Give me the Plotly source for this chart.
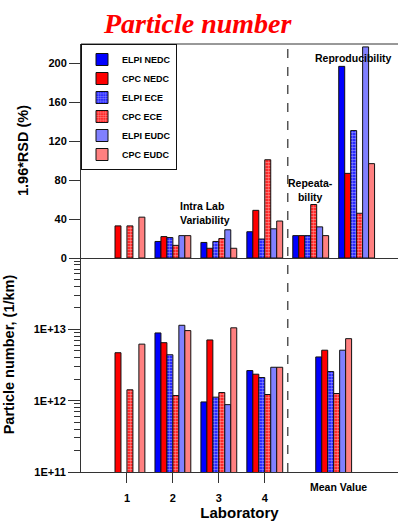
import plotly.graph_objects as go

# ---------------- data ----------------
series_names = ["ELPI NEDC", "CPC NEDC", "ELPI ECE", "CPC ECE", "ELPI EUDC", "CPC EUDC"]

# top panel: 1.96*RSD (%) ; positions: labs 1-4, repeatability, reproducibility
top_x = [1, 2, 3, 4, 5, 6]
rsd_elpi_nedc = [None, 17, 16, 27, 23, 197]
rsd_cpc_nedc = [33, 22, 10, 49, 23, 87]
rsd_elpi_ece = [None, 21, 17, 19.5, 23, 131]
rsd_cpc_ece = [33, 13, 20, 101, 55, 46]
rsd_elpi_eudc = [None, 23, 29, 30, 32, 217]
rsd_cpc_eudc = [42, 23, 10, 38, 23, 97]

# bottom panel: particle number (1/km) ; positions: labs 1-4, mean value
bot_x = [1, 2, 3, 4, 5.5]
pn_elpi_nedc = [None, 8.9e12, 9.6e11, 2.64e12, 4.1e12]
pn_cpc_nedc = [4.7e12, 6.5e12, 7.1e12, 2.35e12, 5.1e12]
pn_elpi_ece = [None, 4.4e12, 1.12e12, 2.11e12, 2.56e12]
pn_cpc_ece = [1.42e12, 1.18e12, 1.3e12, 1.22e12, 1.26e12]
pn_elpi_eudc = [None, 1.14e13, 8.8e11, 2.94e12, 5.1e12]
pn_cpc_eudc = [6.2e12, 9.6e12, 1.05e13, 2.94e12, 7.4e12]

lab_ticks = [1, 2, 3, 4]
lab_labels = ["1", "2", "3", "4"]
log_ticks = [1e11, 1e12, 1e13]
log_labels = ["1E+11", "1E+12", "1E+13"]
rsd_ticks = [0, 40, 80, 120, 160, 200]

top_values = [rsd_elpi_nedc, rsd_cpc_nedc, rsd_elpi_ece, rsd_cpc_ece, rsd_elpi_eudc, rsd_cpc_eudc]
bot_values = [pn_elpi_nedc, pn_cpc_nedc, pn_elpi_ece, pn_cpc_ece, pn_elpi_eudc, pn_cpc_eudc]

# ---------------- styles ----------------
FONT = "Liberation Sans, Arial, sans-serif"
AX = "#333333"
styles = [
    dict(color="#0000FF"),
    dict(color="#FF0000"),
    dict(color="#0000FF", pattern=dict(shape=".", fgcolor="white", bgcolor="#0000FF", size=3, solidity=0.65)),
    dict(color="#FF0000", pattern=dict(shape=".", fgcolor="white", bgcolor="#FF0000", size=3, solidity=0.65)),
    dict(color="#8080FF"),
    dict(color="#FF8080"),
]
BW = 0.13

fig = go.Figure()
for i, name in enumerate(series_names):
    st = dict(styles[i])
    st["line"] = dict(color="#111111", width=1)
    fig.add_trace(go.Bar(
        x=top_x, y=top_values[i], name=name, width=BW, offset=-0.39 + i * BW,
        marker=st, xaxis="x", yaxis="y", legendgroup=name, showlegend=True,
    ))
for i, name in enumerate(series_names):
    st = dict(styles[i])
    st["line"] = dict(color="#111111", width=1)
    fig.add_trace(go.Bar(
        x=bot_x, y=bot_values[i], name=name, width=BW, offset=-0.39 + i * BW,
        marker=st, xaxis="x2", yaxis="y2", legendgroup=name, showlegend=False,
    ))

tickfont = dict(family=FONT, size=11, color="black", weight="bold")

fig.update_layout(
    width=398, height=522,
    margin=dict(l=81, r=0, t=44, b=50),
    paper_bgcolor="white", plot_bgcolor="white",
    barmode="overlay",
    showlegend=True,
    legend=dict(
        x=0, y=1, xanchor="left", yanchor="top",
        bordercolor="#111111", borderwidth=1, bgcolor="white",
        font=dict(family=FONT, size=9, color="black", weight="bold"),
        traceorder="grouped", tracegroupgap=0,
    ),
    xaxis=dict(domain=[0, 1], range=[0, 6.9], anchor="y", showticklabels=False,
               ticks="", showgrid=False, zeroline=False, showline=True,
               linecolor=AX, linewidth=1),
    yaxis=dict(domain=[0.5, 1], range=[0, 220], anchor="x", tickvals=rsd_ticks,
               ticks="outside", ticklen=11, tickcolor=AX, showgrid=False,
               zeroline=False, showline=True, linecolor=AX, linewidth=1,
               tickfont=tickfont),
    xaxis2=dict(domain=[0, 1], range=[0, 6.9], anchor="y2", tickvals=lab_ticks,
                ticktext=lab_labels, ticks="outside", ticklen=10, tickcolor=AX,
                ticklabelstandoff=6,
                showgrid=False, zeroline=False, showline=True, linecolor=AX,
                linewidth=1, tickfont=tickfont,
                title=dict(text="Laboratory", font=dict(family=FONT, size=15, color="black", weight="bold"),
                           standoff=2)),
    yaxis2=dict(domain=[0, 0.5], type="log", range=[11, 14], anchor="x2",
                tickvals=log_ticks, ticktext=log_labels, ticks="outside",
                ticklen=12, tickcolor=AX, showgrid=False, zeroline=False,
                showline=True, linecolor=AX, linewidth=1, tickfont=tickfont,
                minor=dict(ticks="outside", ticklen=6, tickcolor=AX, dtick="D1", showgrid=False)),
)

# top border line and dashed separator
fig.add_shape(type="line", xref="paper", yref="paper", x0=0, x1=1, y0=1, y1=1,
              line=dict(color=AX, width=1))
fig.add_shape(type="line", xref="x2", yref="paper", x0=4.5, x1=4.5, y0=0, y1=1,
              line=dict(color="#555555", width=1.5, dash="dash"))

ann_font = dict(family=FONT, size=10.5, color="black", weight="bold")
fig.add_annotation(text="Particle number", xref="paper", yref="paper", x=0.37, y=1,
                   xanchor="center", yanchor="middle", yshift=21, showarrow=False,
                   font=dict(family="Liberation Serif, Times New Roman, serif", size=28,
                             color="#FF0000", weight="bold", style="italic"))
fig.add_annotation(text="1.96*RSD (%)", xref="paper", yref="paper", x=0, y=0.75,
                   xanchor="center", yanchor="middle",
                   xshift=-58, textangle=-90, showarrow=False,
                   font=dict(family=FONT, size=14.5, color="black", weight="bold"))
fig.add_annotation(text="Particle number, (1/km)", xref="paper", yref="paper", x=0, y=0.275,
                   xanchor="center", yanchor="middle",
                   xshift=-72, textangle=-90, showarrow=False,
                   font=dict(family=FONT, size=14.5, color="black", weight="bold"))
fig.add_annotation(text="Intra Lab<br>Variability", xref="x", yref="y", x=2.7, y=46,
                   showarrow=False, font=ann_font, align="left")
fig.add_annotation(text="Repeata-<br>bility", xref="x", yref="y", x=5.0, y=70,
                   showarrow=False, font=ann_font, align="center")
fig.add_annotation(text="Reproducibility", xref="x", yref="y", x=5.93, y=206,
                   showarrow=False, font=ann_font)
fig.add_annotation(text="Mean Value", xref="x2", yref="paper", x=5.6, y=0,
                   yanchor="middle", yshift=-15, showarrow=False, font=ann_font)

fig.write_html("out.html", post_script="document.body.style.margin='0';",
               config={"displayModeBar": False})
